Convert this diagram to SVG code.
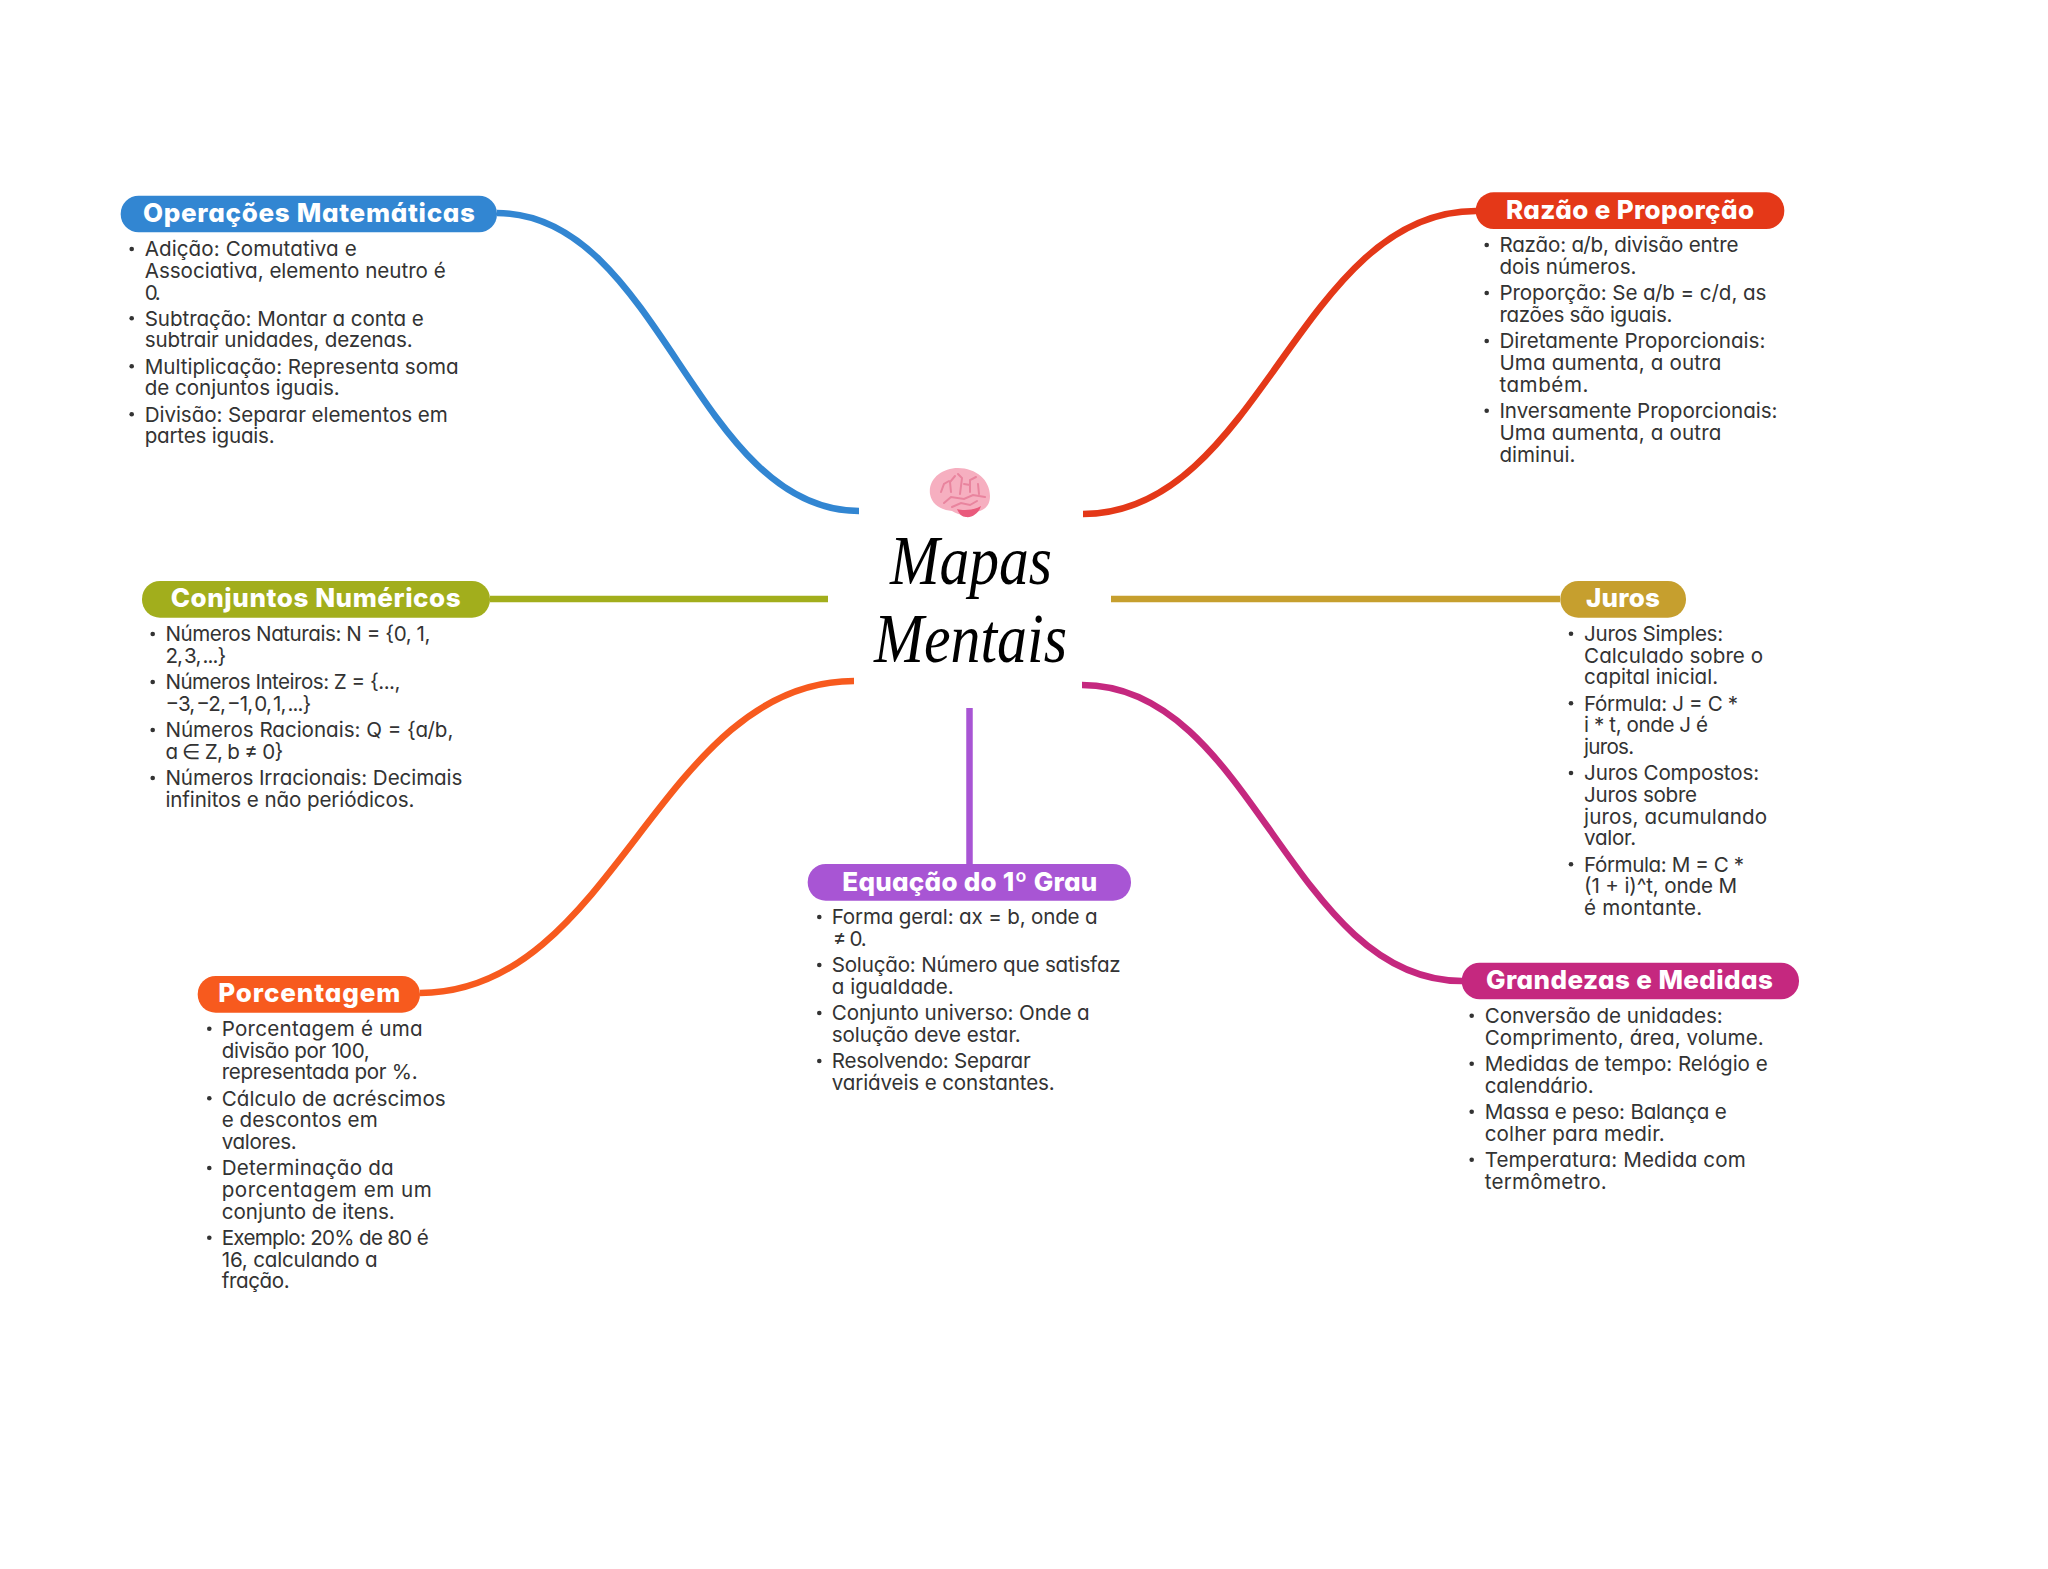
<svg xmlns="http://www.w3.org/2000/svg" width="2048" height="1569" viewBox="0 0 2048 1569">
<style>
.c{fill:none;stroke-width:6.5}
.p{rx:18px;ry:18px}
.h{font:800 26px Inter,"Liberation Sans",sans-serif;fill:#fff;font-feature-settings:"cv11"}
.b{font:400 20.6px Inter,"Liberation Sans",sans-serif;fill:#333;font-feature-settings:"cv11";transform:translate(-.6px,.3px)}
.n{word-spacing:-3px}
.d{fill:#333}
.t{font:italic 400 70px "Liberation Serif",serif;fill:#000}
</style>
<rect width="2048" height="1569" fill="#fff"/>
<g id="connectors">
<path class="c" stroke="#3286D2" d="M497 213C660 213 696 511 859 511"/>
<path class="c" stroke="#E43818" d="M1083 514C1260 514 1299 211 1476 211"/>
<path class="c" stroke="#A2AE1C" d="M490 599H828"/>
<path class="c" stroke="#C69F2E" d="M1111 599H1560"/>
<path class="c" stroke="#F75A1E" d="M420 993C615 993 659 681 854 681"/>
<path class="c" stroke="#A855D4" d="M969.5 708V864"/>
<path class="c" stroke="#C5287F" d="M1082 685C1253 685 1291 981 1462 981"/>
</g>
<g id="center">
<path fill="#F6AFC0" d="M930 494C928 479 942 468 958 468C976 468 990 480 990 496C990 507 983 511 975 512C966 517 958 515 952 511C941 510 932 505 930 494Z"/>
<path fill="#E95A7C" d="M957 509C964 511 975 510 981 506C979 513 972 518 966 517C962 517 959 514 957 509Z"/>
<path fill="none" stroke="#E9849E" stroke-width="2" stroke-linecap="round" d="M941 492L944 484L949 481M951 492L950 482L955 476M960 494L962 478L958 474M970 492L970 480L976 477M979 494L978 484M964 484L970 485M944 503L951 497L964 499L973 495L985 497M952 507L961 503L970 505L977 501"/>
<text class="t" x="890" y="584" textLength="162" lengthAdjust="spacingAndGlyphs">Mapas</text>
<text class="t" x="874" y="662" textLength="193" lengthAdjust="spacingAndGlyphs">Mentais</text>
</g>
<g id="operacoes">
<rect class="p" x="120.7" y="195.7" width="376.3" height="36.6" fill="#3286D2"/>
<text class="h" x="143" y="222.3" textLength="332">Operações Matemáticas</text>
<circle class="d" cx="131.7" cy="249" r="2.3"/><circle class="d" cx="131.7" cy="318.3" r="2.3"/><circle class="d" cx="131.7" cy="366.3" r="2.3"/><circle class="d" cx="131.7" cy="414.3" r="2.3"/>
<text class="b" x="145.3" y="256" textLength="212">Adição: Comutativa e</text>
<text class="b" x="145.3" y="277.7" textLength="301">Associativa, elemento neutro é</text>
<text class="b" x="145.3" y="299.3" textLength="16">0.</text>
<text class="b" x="145.3" y="325.3" textLength="279">Subtração: Montar a conta e</text>
<text class="b" x="145.3" y="347" textLength="268">subtrair unidades, dezenas.</text>
<text class="b" x="145.3" y="373.3" textLength="314">Multiplicação: Representa soma</text>
<text class="b" x="145.3" y="395" textLength="195">de conjuntos iguais.</text>
<text class="b" x="145.3" y="421.3" textLength="303">Divisão: Separar elementos em</text>
<text class="b" x="145.3" y="443" textLength="130">partes iguais.</text>
</g>
<g id="razao">
<rect class="p" x="1475.7" y="192.3" width="308.6" height="36.7" fill="#E43818"/>
<text class="h" x="1506" y="219" textLength="248">Razão e Proporção</text>
<circle class="d" cx="1486.7" cy="245" r="2.3"/><circle class="d" cx="1486.7" cy="293" r="2.3"/><circle class="d" cx="1486.7" cy="341" r="2.3"/><circle class="d" cx="1486.7" cy="410.7" r="2.3"/>
<text class="b" x="1500" y="252" textLength="239">Razão: a/b, divisão entre</text>
<text class="b" x="1500" y="273.7" textLength="137">dois números.</text>
<text class="b" x="1500" y="300" textLength="267">Proporção: Se a/b = c/d, as</text>
<text class="b" x="1500" y="321.7" textLength="173">razões são iguais.</text>
<text class="b" x="1500" y="348" textLength="266">Diretamente Proporcionais:</text>
<text class="b" x="1500" y="369.7" textLength="222">Uma aumenta, a outra</text>
<text class="b" x="1500" y="391.7" textLength="89">também.</text>
<text class="b" x="1500" y="417.7" textLength="278">Inversamente Proporcionais:</text>
<text class="b" x="1500" y="439.3" textLength="222">Uma aumenta, a outra</text>
<text class="b" x="1500" y="461.3" textLength="76">diminui.</text>
</g>
<g id="conjuntos">
<rect class="p" x="142" y="581" width="348" height="36.7" fill="#A2AE1C"/>
<text class="h" x="170.7" y="607.3" textLength="290">Conjuntos Numéricos</text>
<circle class="d" cx="152.7" cy="634" r="2.3"/><circle class="d" cx="152.7" cy="682" r="2.3"/><circle class="d" cx="152.7" cy="730" r="2.3"/><circle class="d" cx="152.7" cy="778" r="2.3"/>
<text class="b" x="166" y="641" textLength="265">Números Naturais: N = {0, 1,</text>
<text class="b n" x="166" y="662.7" textLength="61">2, 3, ...}</text>
<text class="b" x="166" y="689" textLength="235">Números Inteiros: Z = {...,</text>
<text class="b n" x="166" y="710.7" textLength="146">−3, −2, −1, 0, 1, ...}</text>
<text class="b" x="166" y="737" textLength="288">Números Racionais: Q = {a/b,</text>
<text class="b" x="166" y="758.7" textLength="118">a ∈ Z, b ≠ 0}</text>
<text class="b" x="166" y="785" textLength="297">Números Irracionais: Decimais</text>
<text class="b" x="166" y="806.7" textLength="249">infinitos e não periódicos.</text>
</g>
<g id="juros">
<rect class="p" x="1560.3" y="581" width="125.7" height="36.7" fill="#C69F2E"/>
<text class="h" x="1586" y="607.3" textLength="74">Juros</text>
<circle class="d" cx="1571" cy="633.7" r="2.3"/><circle class="d" cx="1571" cy="703.3" r="2.3"/><circle class="d" cx="1571" cy="773" r="2.3"/><circle class="d" cx="1571" cy="864.3" r="2.3"/>
<text class="b" x="1584.7" y="640.7" textLength="139">Juros Simples:</text>
<text class="b" x="1584.7" y="662.3" textLength="179">Calculado sobre o</text>
<text class="b" x="1584.7" y="684" textLength="134">capital inicial.</text>
<text class="b" x="1584.7" y="710.3" textLength="154">Fórmula: J = C *</text>
<text class="b" x="1584.7" y="732" textLength="124">i * t, onde J é</text>
<text class="b" x="1584.7" y="753.7" textLength="50">juros.</text>
<text class="b" x="1584.7" y="780" textLength="175">Juros Compostos:</text>
<text class="b" x="1584.7" y="801.7" textLength="113">Juros sobre</text>
<text class="b" x="1584.7" y="823.3" textLength="183">juros, acumulando</text>
<text class="b" x="1584.7" y="845" textLength="52">valor.</text>
<text class="b" x="1584.7" y="871.3" textLength="160">Fórmula: M = C *</text>
<text class="b" x="1584.7" y="893" textLength="153">(1 + i)^t, onde M</text>
<text class="b" x="1584.7" y="914.7" textLength="118">é montante.</text>
</g>
<g id="porcentagem">
<rect class="p" x="197.7" y="976" width="222.3" height="36.7" fill="#F75A1E"/>
<text class="h" x="218.3" y="1002.3" textLength="182">Porcentagem</text>
<circle class="d" cx="209.3" cy="1028.7" r="2.3"/><circle class="d" cx="209.3" cy="1098.3" r="2.3"/><circle class="d" cx="209.3" cy="1168" r="2.3"/><circle class="d" cx="209.3" cy="1237.7" r="2.3"/>
<text class="b" x="222.3" y="1035.7" textLength="201">Porcentagem é uma</text>
<text class="b" x="222.3" y="1057.3" textLength="148">divisão por 100,</text>
<text class="b" x="222.3" y="1079" textLength="196">representada por %.</text>
<text class="b" x="222.3" y="1105.3" textLength="224">Cálculo de acréscimos</text>
<text class="b" x="222.3" y="1127" textLength="156">e descontos em</text>
<text class="b" x="222.3" y="1148.7" textLength="75">valores.</text>
<text class="b" x="222.3" y="1175" textLength="172">Determinação da</text>
<text class="b" x="222.3" y="1196.7" textLength="210">porcentagem em um</text>
<text class="b" x="222.3" y="1218.3" textLength="173">conjunto de itens.</text>
<text class="b" x="222.3" y="1244.7" textLength="207">Exemplo: 20% de 80 é</text>
<text class="b" x="222.3" y="1266.3" textLength="156">16, calculando a</text>
<text class="b" x="222.3" y="1288" textLength="68">fração.</text>
</g>
<g id="equacao">
<rect class="p" x="807.7" y="864" width="323.3" height="36.7" fill="#A855D4"/>
<text class="h" x="842.3" y="890.7" textLength="255">Equação do 1º Grau</text>
<circle class="d" cx="819.3" cy="917" r="2.3"/><circle class="d" cx="819.3" cy="965" r="2.3"/><circle class="d" cx="819.3" cy="1013" r="2.3"/><circle class="d" cx="819.3" cy="1061" r="2.3"/>
<text class="b" x="832.3" y="924" textLength="266">Forma geral: ax = b, onde a</text>
<text class="b" x="833.3" y="945.7" textLength="34">≠ 0.</text>
<text class="b" x="832.3" y="972" textLength="289">Solução: Número que satisfaz</text>
<text class="b" x="832.3" y="993.7" textLength="122">a igualdade.</text>
<text class="b" x="832.3" y="1020" textLength="258">Conjunto universo: Onde a</text>
<text class="b" x="832.3" y="1041.7" textLength="189">solução deve estar.</text>
<text class="b" x="832.3" y="1068" textLength="199">Resolvendo: Separar</text>
<text class="b" x="832.3" y="1089.7" textLength="223">variáveis e constantes.</text>
</g>
<g id="grandezas">
<rect class="p" x="1461.7" y="962.7" width="337.3" height="36.6" fill="#C5287F"/>
<text class="h" x="1486" y="989" textLength="287">Grandezas e Medidas</text>
<circle class="d" cx="1471.7" cy="1015.7" r="2.3"/><circle class="d" cx="1471.7" cy="1063.7" r="2.3"/><circle class="d" cx="1471.7" cy="1111.7" r="2.3"/><circle class="d" cx="1471.7" cy="1159.7" r="2.3"/>
<text class="b" x="1485.3" y="1022.7" textLength="238">Conversão de unidades:</text>
<text class="b" x="1485.3" y="1044.3" textLength="279">Comprimento, área, volume.</text>
<text class="b" x="1485.3" y="1070.7" textLength="283">Medidas de tempo: Relógio e</text>
<text class="b" x="1485.3" y="1092.3" textLength="109">calendário.</text>
<text class="b" x="1485.3" y="1118.7" textLength="242">Massa e peso: Balança e</text>
<text class="b" x="1485.3" y="1140.3" textLength="180">colher para medir.</text>
<text class="b" x="1485.3" y="1166.7" textLength="261">Temperatura: Medida com</text>
<text class="b" x="1485.3" y="1188.3" textLength="122">termômetro.</text>
</g>
</svg>
